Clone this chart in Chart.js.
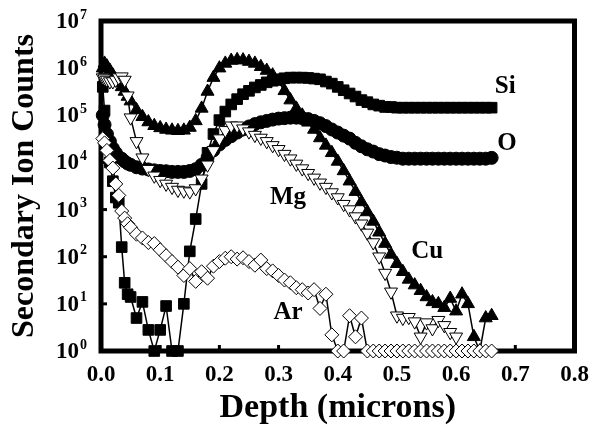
<!DOCTYPE html>
<html>
<head>
<meta charset="utf-8">
<script src="https://cdn.jsdelivr.net/npm/chart.js@4.4.1/dist/chart.umd.min.js"></script>
<style>
  html, body { margin: 0; padding: 0; background: #fff; }
  #wrap { width: 599px; height: 442px; }
</style>
</head>
<body>
<div id="wrap"><canvas id="chart" width="599" height="442"></canvas></div>
<script>
const depth = [
  0.003, 0.006, 0.01, 0.015, 0.02, 0.025, 0.03, 0.035, 0.04, 0.045, 0.05,
  0.06, 0.07, 0.08, 0.09, 0.10, 0.11, 0.12, 0.13, 0.14, 0.15, 0.16, 0.17, 0.18, 0.19, 0.20,
  0.21, 0.22, 0.23, 0.24, 0.25, 0.26, 0.27, 0.28, 0.29, 0.30, 0.31, 0.32, 0.33, 0.34, 0.35,
  0.36, 0.37, 0.38, 0.39, 0.40, 0.41, 0.42, 0.43, 0.44, 0.45, 0.46, 0.47, 0.48, 0.49, 0.50,
  0.51, 0.52, 0.53, 0.54, 0.55, 0.56, 0.57, 0.58, 0.59, 0.60, 0.61, 0.62, 0.63, 0.64, 0.65, 0.66
];

const siCounts = [
  4.0e5, 1.26e5, 3.2e4, 1.0e4, 4.0e3, 1.8e3, 1.4e3, 160, 28, 16, 14,
  5, 11, 2.8, 1, 2.8, 9, 1, 1, 10, 130, 630, 3.5e3, 1.6e4, 4.0e4, 7.9e4,
  1.2e5, 1.7e5, 2.2e5, 2.8e5, 3.3e5, 3.9e5, 4.4e5, 5.0e5, 5.4e5, 5.8e5, 6.1e5, 6.3e5, 6.3e5, 6.3e5, 6.2e5,
  6.0e5, 5.8e5, 5.2e5, 4.7e5, 4.0e5, 3.4e5, 2.9e5, 2.5e5, 2.1e5, 1.9e5, 1.7e5, 1.6e5, 1.5e5, 1.5e5, 1.45e5,
  1.45e5, 1.45e5, 1.45e5, 1.45e5, 1.45e5, 1.45e5, 1.45e5, 1.45e5, 1.45e5, 1.45e5, 1.45e5, 1.45e5, 1.45e5, 1.45e5, 1.45e5, 1.45e5
];

const oCounts = [
  1.0e5, 6.3e4, 4.0e4, 2.8e4, 2.0e4, 1.6e4, 1.3e4, 1.2e4, 1.05e4, 9.5e3, 8.9e3,
  7.9e3, 7.4e3, 7.1e3, 6.8e3, 6.6e3, 6.5e3, 6.3e3, 6.3e3, 6.3e3, 6.6e3, 7.2e3, 8.9e3, 1.26e4, 1.8e4, 2.4e4,
  3.0e4, 3.6e4, 4.3e4, 5.0e4, 5.8e4, 6.5e4, 7.1e4, 7.6e4, 8.1e4, 8.5e4, 8.7e4, 8.9e4, 8.9e4, 8.7e4, 8.3e4,
  7.6e4, 6.8e4, 5.9e4, 5.0e4, 4.3e4, 3.7e4, 3.2e4, 2.6e4, 2.2e4, 1.9e4, 1.7e4, 1.5e4, 1.4e4, 1.3e4, 1.26e4,
  1.2e4, 1.2e4, 1.2e4, 1.2e4, 1.2e4, 1.2e4, 1.2e4, 1.2e4, 1.2e4, 1.2e4, 1.2e4, 1.2e4, 1.2e4, 1.2e4, 1.2e4, 1.25e4
];

const mgCounts = [
  6.3e5, 6.0e5, 5.6e5, 5.2e5, 5.2e5, 5.6e5, 6.3e5, 6.6e5, 5.6e5, 2.6e5, 8.9e4,
  2.8e4, 1.26e4, 7.2e3, 5.2e3, 4.2e3, 3.5e3, 3.0e3, 2.6e3, 2.5e3, 2.4e3, 2.8e3, 4.5e3, 8.9e3, 1.8e4, 3.2e4,
  4.8e4, 6.0e4, 6.0e4, 5.2e4, 4.5e4, 3.8e4, 3.3e4, 2.8e4, 2.3e4, 1.9e4, 1.5e4, 1.2e4, 9.3e3, 7.4e3, 5.9e3,
  4.7e3, 3.7e3, 3.0e3, 2.3e3, 1.8e3, 1.3e3, 1.0e3, 710, 500, 320, 200, 100, 45, 18, 5.6,
  5, 5.2, 4.2, 2, 4, 3, 4.5, 3.5, 2.5, 2, null, null, null, null, null, null
];

const cuCounts = [
  1.0e6, 1.26e6, 1.1e6, 8.9e5, 7.1e5, 5.6e5, 5.0e5, 4.0e5, 3.2e5, 2.5e5, 2.0e5,
  1.3e5, 9.3e4, 7.2e4, 6.0e4, 5.4e4, 5.0e4, 4.8e4, 4.7e4, 4.8e4, 5.5e4, 7.6e4, 1.4e5, 3.2e5, 6.3e5, 1.0e6,
  1.26e6, 1.45e6, 1.5e6, 1.48e6, 1.38e6, 1.26e6, 1.07e6, 8.9e5, 7.1e5, 5.2e5, 3.3e5, 2.1e5, 1.4e5, 1.0e5, 7.1e4,
  5.0e4, 3.3e4, 2.3e4, 1.6e4, 1.05e4, 6.6e3, 4.0e3, 2.4e3, 1.45e3, 890, 560, 330, 190, 112, 71,
  48, 33, 25, 19, 14, 11, 10, 8.3, 13, 7, 16, 10, 2, 1, 5, 5.6
];

const arCounts = [
  3.2e4, 2.6e4, 1.8e4, 1.1e4, 7.6e3, 3.5e3, 2.0e3, 930, 660, 500, 420,
  300, 250, 200, 190, 140, 105, 79, 60, 40, 56, 30, 48, 35, 63, 79,
  93, 100, 89, 95, 79, 66, 85, 56, 50, 40, 32, 28, 22, 20, 17,
  20, 8, 16, 2.2, 1, 1, 5.6, 2, 5, 1, 1, 1, 1, 1, 1,
  1, 1, 1, 1, 1, 1, 1, 1, 1, 1, 1, 1, 1, 1, 1, 1
];

const xTickValues = [0, 0.1, 0.2, 0.3, 0.4, 0.5, 0.6, 0.7, 0.8];
const yTickPowers = [0, 1, 2, 3, 4, 5, 6, 7];

const seriesLabels = [
  { text: 'Si', x: 0.683, y: 4.0e5 },
  { text: 'O',  x: 0.686, y: 2.5e4 },
  { text: 'Mg', x: 0.316, y: 1.76e3 },
  { text: 'Cu', x: 0.551, y: 126 },
  { text: 'Ar', x: 0.316, y: 6.7 }
];

const serif = "'Liberation Serif', 'Times New Roman', serif";

function toPoints(values) {
  const pts = [];
  values.forEach((v, i) => {
    if (v !== null) pts.push({ x: depth[i], y: v });
  });
  return pts;
}

function series(values, style, order) {
  return Object.assign({
    data: toPoints(values),
    showLine: true,
    borderColor: '#000',
    borderWidth: 1.5,
    pointBorderColor: '#000',
    pointBackgroundColor: '#000',
    pointBorderWidth: 1,
    clip: false,
    order: order,
  }, style);
}

// рамка, внутренние засечки, подписи осей и серий
const decorPlugin = {
  id: 'decor',
  beforeDatasetsDraw(chart) {
    const { ctx, chartArea: a, scales } = chart;
    ctx.save();
    ctx.strokeStyle = '#000';
    ctx.lineWidth = 5;
    ctx.strokeRect(a.left, a.top, a.right - a.left, a.bottom - a.top);
    ctx.lineWidth = 3;
    xTickValues.forEach(v => {
      const x = scales.x.getPixelForValue(v);
      ctx.beginPath();
      ctx.moveTo(x, a.bottom);
      ctx.lineTo(x, a.bottom - 6);
      ctx.stroke();
    });
    yTickPowers.forEach(p => {
      const y = scales.y.getPixelForValue(Math.pow(10, p));
      ctx.beginPath();
      ctx.moveTo(a.left, y);
      ctx.lineTo(a.left + 6, y);
      ctx.stroke();
    });
    ctx.restore();
  },
  afterDraw(chart) {
    const { ctx, chartArea: a, scales } = chart;
    ctx.save();
    ctx.fillStyle = '#000';
    yTickPowers.forEach(p => {
      const y = scales.y.getPixelForValue(Math.pow(10, p));
      ctx.textBaseline = 'middle';
      ctx.textAlign = 'right';
      ctx.font = 'bold 23px ' + serif;
      ctx.fillText('10', a.left - 22, y + 1);
      ctx.textAlign = 'left';
      ctx.font = 'bold 14px ' + serif;
      ctx.fillText(String(p), a.left - 21, y - 6);
    });
    ctx.font = 'bold 25px ' + serif;
    ctx.textAlign = 'center';
    ctx.textBaseline = 'middle';
    seriesLabels.forEach(l => {
      ctx.fillText(l.text, scales.x.getPixelForValue(l.x), scales.y.getPixelForValue(l.y));
    });
    ctx.restore();
  }
};

new Chart(document.getElementById('chart'), {
  type: 'scatter',
  data: {
    datasets: [
      series(siCounts, { label: 'Si', pointStyle: 'rect', pointRadius: 7.5 }, 5),
      series(oCounts, { label: 'O', pointStyle: 'circle', pointRadius: 6.5 }, 4),
      series(cuCounts, { label: 'Cu', pointStyle: 'triangle', pointRadius: 7.5 }, 3),
      series(mgCounts, { label: 'Mg', pointStyle: 'triangle', pointRotation: 180, pointRadius: 7.5,
        pointBackgroundColor: '#fff' }, 2),
      series(arCounts, { label: 'Ar', pointStyle: 'rectRot', pointRadius: 7,
        pointBackgroundColor: '#fff' }, 1),
    ]
  },
  options: {
    responsive: false,
    animation: false,
    devicePixelRatio: 1,
    layout: { padding: { top: 21, right: 24.5, left: 0, bottom: 0 } },
    plugins: {
      legend: { display: false },
      tooltip: { enabled: false },
    },
    scales: {
      x: {
        type: 'linear',
        min: 0,
        max: 0.8,
        afterBuildTicks: s => { s.ticks = xTickValues.map(v => ({ value: v })); },
        afterFit: s => { s.height = 91; },
        grid: { display: false, drawTicks: false },
        border: { display: false },
        ticks: {
          color: '#000',
          padding: 10,
          maxRotation: 0,
          font: { family: serif, size: 23, weight: 'bold' },
          callback: v => v.toFixed(1),
        },
        title: {
          display: true,
          text: 'Depth (microns)',
          color: '#000',
          font: { family: serif, size: 34, weight: 'bold' },
          padding: { top: 0, bottom: 13 },
        },
      },
      y: {
        type: 'logarithmic',
        min: 1,
        max: 1e7,
        afterBuildTicks: s => { s.ticks = yTickPowers.map(p => ({ value: Math.pow(10, p) })); },
        afterFit: s => { s.width = 101; },
        grid: { display: false, drawTicks: false },
        border: { display: false },
        ticks: { display: false },
        title: {
          display: true,
          text: 'Secondary Ion Counts',
          color: '#000',
          font: { family: serif, size: 32, weight: 'bold' },
          padding: { top: 6, bottom: 0 },
        },
      },
    },
  },
  plugins: [decorPlugin],
});
</script>
</body>
</html>
